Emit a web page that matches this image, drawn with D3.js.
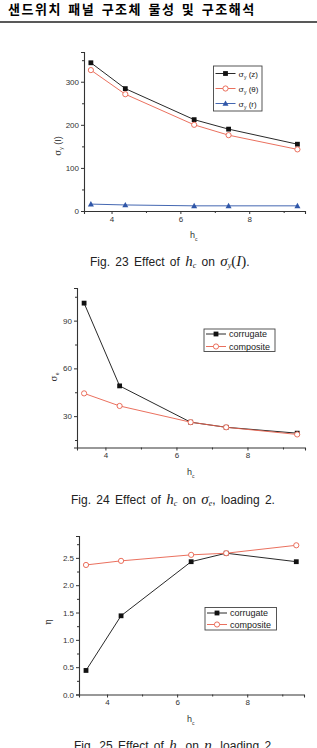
<!DOCTYPE html>
<html>
<head>
<meta charset="utf-8">
<script src="https://cdn.jsdelivr.net/npm/d3@7"></script>
<style>
  body { margin: 0; background: #fff; }
  svg { display: block; }
  .tick text { font-family: "Liberation Sans", Arial, sans-serif; fill: #333; }
</style>
</head>
<body>
<svg id="page" width="317" height="748"></svg>
<script>
// x positions shared by all three plots
const hc = [3.4, 4.4, 6.4, 7.4, 9.4];
const xMajor = [4, 6, 8];
const xMinor = [5, 7, 9];

// Fig. 23
const sigmaZ = [344, 284, 212, 190, 155];
const sigmaTheta = [327, 271, 200, 176, 143];
const sigmaR = [16, 14, 12, 12, 12];
const fig23Ticks = [0, 100, 200, 300];

// Fig. 24
const seCorrugate = [101, 49, 26.2, 23, 19.3];
const seComposite = [44.3, 36.4, 26.2, 23, 18.5];
const fig24Ticks = [30, 60, 90];

// Fig. 25
const etaCorrugate = [0.44, 1.44, 2.43, 2.585, 2.43];
const etaComposite = [2.37, 2.445, 2.555, 2.585, 2.73];
const fig25Ticks = [0, 0.5, 1.0, 1.5, 2.0, 2.5];

const svg = d3.select("#page");

// running header
svg.append("text")
  .attr("x", 8).attr("y", 14)
  .style("font-family", "'Noto Sans CJK KR', sans-serif")
  .style("font-weight", "bold")
  .style("font-size", "13px")
  .style("letter-spacing", "1.5px")
  .style("word-spacing", "2px")
  .text("샌드위치 패널 구조체 물성 및 구조해석");
svg.append("line")
  .attr("x1", 0).attr("x2", 317).attr("y1", 22).attr("y2", 22)
  .attr("stroke", "#222").attr("stroke-width", 1.6);

const colBlack = "#111";
const colRed = "#e8604c";
const colBlue = "#2f56a8";

function marker(sel, kind, color) {
  if (kind == "square") {
    sel.append("rect").attr("x", -2.4).attr("y", -2.4).attr("width", 4.8).attr("height", 4.8).attr("fill", color);
  } else if (kind == "circle") {
    sel.append("circle").attr("r", 2.6).attr("fill", "#fff").attr("stroke", color).attr("stroke-width", 0.9);
  } else {
    sel.append("path").attr("d", "M0,-3L3,2.3L-3,2.3Z").attr("fill", color);
  }
}

function drawChart(o) {
  const g = svg.append("g");
  const x = d3.scaleLinear().domain([3.2, 9.62]).range([o.left, o.right]);
  const y = d3.scaleLinear().domain(o.yDomain).range([o.bottom, o.top]);

  // x axis
  const xa = g.append("g").attr("transform", "translate(0," + o.bottom + ")");
  xa.call(d3.axisBottom(x).tickValues(xMajor).tickSize(3).tickPadding(2).tickFormat(d3.format("d")));
  xa.append("g").call(d3.axisBottom(x).tickValues(xMinor).tickSize(2).tickFormat(""))
    .select(".domain").remove();
  xa.selectAll("text").style("font-size", "8px");

  // y axis
  const ya = g.append("g").attr("transform", "translate(" + o.left + ",0)");
  ya.call(d3.axisLeft(y).tickValues(o.yTicks).tickSize(3).tickPadding(2).tickFormat(o.yFormat));
  ya.append("g").call(d3.axisLeft(y).tickValues(o.yMinor).tickSize(2).tickFormat(""))
    .select(".domain").remove();
  ya.selectAll("text").style("font-size", "8px");
  g.selectAll(".domain, .tick line").attr("stroke", "#333");
  g.selectAll(".domain").attr("stroke-width", 1.1);

  // axis titles
  const xt = g.append("text").attr("x", o.xTitleX).attr("y", o.bottom + 27)
    .style("font-family", "Liberation Sans, Arial, sans-serif").style("font-size", "9px").attr("fill", "#333");
  xt.append("tspan").text("h");
  xt.append("tspan").attr("dy", 3).style("font-size", "5px").text("c");

  const yt = g.append("text")
    .attr("transform", "translate(" + o.yTitleX + "," + o.yTitleY + ") rotate(-90)")
    .attr("text-anchor", "middle")
    .style("font-family", "Liberation Sans, Arial, sans-serif").style("font-size", "9px").attr("fill", "#333");
  o.yTitle(yt);

  // series
  const line = d3.line().x((d, i) => x(hc[i])).y(d => y(d));
  o.series.forEach(s => {
    g.append("path").datum(s.values).attr("d", line)
      .attr("fill", "none").attr("stroke", s.color).attr("stroke-width", 0.9);
    g.selectAll(null).data(s.values).enter().append("g")
      .attr("transform", (d, i) => "translate(" + x(hc[i]) + "," + y(d) + ")")
      .each(function() { marker(d3.select(this), s.marker, s.color); });
  });

  // legend
  const L = o.legend;
  g.append("rect").attr("x", L.x).attr("y", L.y).attr("width", L.w).attr("height", L.h)
    .attr("fill", "#fff").attr("stroke", "#444").attr("stroke-width", 0.9);
  o.series.forEach((s, i) => {
    const ry = L.y + L.pad + i * L.step;
    g.append("line").attr("x1", L.x + 2).attr("x2", L.x + 22).attr("y1", ry).attr("y2", ry)
      .attr("stroke", s.color).attr("stroke-width", 0.9);
    marker(g.append("g").attr("transform", "translate(" + (L.x + 12) + "," + ry + ")"), s.marker, s.color);
    const t = g.append("text").attr("x", L.x + 25).attr("y", ry + 3)
      .style("font-family", "Liberation Sans, Arial, sans-serif").style("font-size", L.fs + "px").attr("fill", "#222");
    s.label(t);
  });

  // caption
  o.caption(svg.append("text").attr("x", o.capX).attr("y", o.capY)
    .style("font-family", "Liberation Sans, Arial, sans-serif").style("font-size", "12px")
    .style("word-spacing", "2px").attr("fill", "#222"));
}

function sigmaLabel(t, arg) {
  t.append("tspan").style("font-family", "DejaVu Serif, serif").text("σ");
  t.append("tspan").attr("dy", 2).style("font-size", "5px").text("y");
  t.append("tspan").attr("dy", -2).text(" (" + arg + ")");
}

const mathStyle = s => s.style("font-family", "Liberation Serif, serif").style("font-style", "italic").style("font-size", "15px");

function caption(t, num, tail) {
  t.append("tspan").text("Fig. " + num + " Effect of ");
  mathStyle(t.append("tspan")).text("h");
  mathStyle(t.append("tspan")).attr("dy", 2).style("font-size", "8px").text("c");
  t.append("tspan").attr("dy", -2).text("  on  ");
  tail(t);
}

drawChart({
  left: 84, right: 305, top: 52, bottom: 211,
  yDomain: [0, 369], yTicks: fig23Ticks, yMinor: [50, 150, 250, 350], yFormat: d3.format("d"),
  xTitleX: 190, yTitleX: 61, yTitleY: 146,
  yTitle: t => {
    t.append("tspan").style("font-family", "DejaVu Serif, serif").text("σ");
    t.append("tspan").attr("dy", 2).style("font-size", "5px").text("y");
    t.append("tspan").attr("dy", -2).text(" (I)");
  },
  series: [
    { values: sigmaZ, color: colBlack, marker: "square", label: t => sigmaLabel(t, "z") },
    { values: sigmaTheta, color: colRed, marker: "circle", label: t => sigmaLabel(t, "θ") },
    { values: sigmaR, color: colBlue, marker: "triangle", label: t => sigmaLabel(t, "r") }
  ],
  legend: { x: 213.5, y: 66, w: 48.5, h: 45, pad: 7.5, step: 15, fs: 8 },
  capX: 90, capY: 266,
  caption: t => caption(t, 23, t => {
    mathStyle(t.append("tspan")).text("σ");
    mathStyle(t.append("tspan")).attr("dy", 2).style("font-size", "8px").text("y");
    mathStyle(t.append("tspan")).attr("dy", -2).style("font-style", "normal").text("(");
    mathStyle(t.append("tspan")).text("I");
    mathStyle(t.append("tspan")).style("font-style", "normal").text(")");
    t.append("tspan").text(".");
  })
});

drawChart({
  left: 77, right: 305, top: 288, bottom: 447.5,
  yDomain: [10.3, 110.5], yTicks: fig24Ticks, yMinor: [15, 45, 75, 105], yFormat: d3.format("d"),
  xTitleX: 187, yTitleX: 57, yTitleY: 377,
  yTitle: t => {
    t.append("tspan").style("font-family", "DejaVu Serif, serif").text("σ");
    t.append("tspan").attr("dy", 2).style("font-size", "5px").text("e");
  },
  series: [
    { values: seCorrugate, color: colBlack, marker: "square", label: t => t.text("corrugate") },
    { values: seComposite, color: colRed, marker: "circle", label: t => t.text("composite") }
  ],
  legend: { x: 204, y: 329, w: 71, h: 22.5, pad: 5, step: 12.5, fs: 9 },
  capX: 71, capY: 504,
  caption: t => caption(t, 24, t => {
    mathStyle(t.append("tspan")).text("σ");
    mathStyle(t.append("tspan")).attr("dy", 2).style("font-size", "8px").text("e");
    t.append("tspan").attr("dy", -2).text(", loading 2.");
  })
});

drawChart({
  left: 79, right: 304, top: 536, bottom: 694.5,
  yDomain: [0, 2.9], yTicks: fig25Ticks, yMinor: [0.25, 0.75, 1.25, 1.75, 2.25, 2.75], yFormat: d3.format(".1f"),
  xTitleX: 187, yTitleX: 51, yTitleY: 622,
  yTitle: t => t.append("tspan").style("font-family", "DejaVu Serif, serif").text("η"),
  series: [
    { values: etaCorrugate, color: colBlack, marker: "square", label: t => t.text("corrugate") },
    { values: etaComposite, color: colRed, marker: "circle", label: t => t.text("composite") }
  ],
  legend: { x: 205, y: 607.5, w: 71.5, h: 22.5, pad: 5.5, step: 11.5, fs: 9 },
  capX: 74, capY: 750,
  caption: t => caption(t, 25, t => {
    mathStyle(t.append("tspan")).text("η");
    t.append("tspan").text(", loading 2.");
  })
});
</script>
</body>
</html>
